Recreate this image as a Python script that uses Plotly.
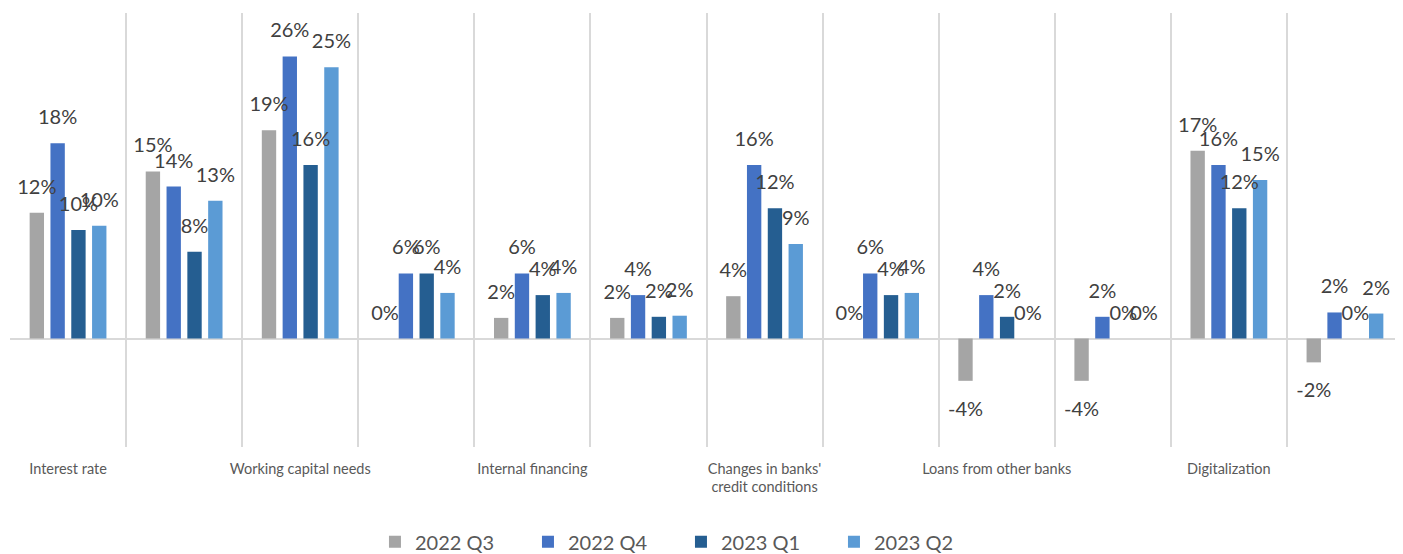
import plotly.graph_objects as go

# Category slots (only every other label is shown, as in the original chart)
category_labels = [
    "Interest rate", "",
    "Working capital needs", "",
    "Internal financing", "",
    "Changes in banks'<br>credit conditions", "",
    "Loans from other banks", "",
    "Digitalization", "",
]
x_index = list(range(len(category_labels)))

series_names = ["2022 Q3", "2022 Q4", "2023 Q1", "2023 Q2"]
q3_2022 = [0.116, 0.154, 0.192, 0.000, 0.019, 0.019, 0.039, 0.000, -0.039, -0.039, 0.173, -0.022]
q4_2022 = [0.180, 0.140, 0.260, 0.060, 0.060, 0.040, 0.160, 0.060, 0.040, 0.020, 0.160, 0.024]
q1_2023 = [0.100, 0.080, 0.160, 0.060, 0.040, 0.020, 0.120, 0.040, 0.020, 0.000, 0.120, 0.000]
q2_2023 = [0.104, 0.127, 0.250, 0.042, 0.042, 0.021, 0.087, 0.042, 0.000, 0.000, 0.146, 0.023]
series_values = [q3_2022, q4_2022, q1_2023, q2_2023]
series_colors = ["#A5A5A5", "#4472C4", "#255E91", "#5B9BD5"]

FONT = "Lato, 'Open Sans', sans-serif"
BARGAP = 0.283

fig = go.Figure()
for name, vals, color in zip(series_names, series_values, series_colors):
    fig.add_trace(go.Bar(
        name=name,
        x=x_index,
        y=vals,
        marker=dict(color=color, line=dict(width=0)),
        hoverinfo="x+y+name",
    ))

# Data labels: invisible grouped markers carrying the text, so the label
# sits a little away from the bar end (like Excel's "outside end" labels).
for name, vals in zip(series_names, series_values):
    fig.add_trace(go.Scatter(
        x=x_index,
        y=vals,
        mode="markers+text",
        texttemplate="%{y:.0%}",
        textposition=["top center" if v >= 0 else "bottom center" for v in vals],
        textfont=dict(family=FONT, size=20, color="#404040"),
        marker=dict(size=[20.8 if v >= 0 else 30.4 for v in vals], opacity=0),
        cliponaxis=False,
        showlegend=False,
        hoverinfo="skip",
        name=name,
    ))

tick_positions = [i for i, lab in zip(x_index, category_labels) if lab]
tick_text = [lab for lab in category_labels if lab]

fig.update_layout(
    barmode="group",
    bargap=BARGAP,
    bargroupgap=0.31,
    scattermode="group",
    scattergap=BARGAP,
    width=1395,
    height=546,
    margin=dict(l=2, r=0, t=5, b=107, autoexpand=False),
    paper_bgcolor="white",
    plot_bgcolor="white",
    font=dict(family=FONT, color="#595959"),
    showlegend=True,
    legend=dict(
        orientation="h",
        x=0.262, xanchor="left",
        y=-0.2185, yanchor="middle",
        font=dict(family=FONT, size=20, color="#595959"),
        entrywidth=108, entrywidthmode="pixels",
        itemclick=False, itemdoubleclick=False,
    ),
    xaxis=dict(
        range=[-0.5, len(category_labels) - 0.5],
        tickmode="array",
        tickvals=tick_positions,
        ticktext=tick_text,
        tickfont=dict(family=FONT, size=14.5, color="#595959"),
        ticks="",
        showgrid=False,
        showline=False,
        zeroline=False,
        ticklabelstandoff=11,
        minor=dict(
            tickmode="linear", tick0=-0.5, dtick=1,
            showgrid=True, gridcolor="#D9D9D9", gridwidth=1.5, ticks="",
        ),
    ),
    yaxis=dict(
        range=[-0.10, 0.30],
        showticklabels=False,
        showgrid=False,
        zeroline=True,
        zerolinecolor="#D9D9D9",
        zerolinewidth=2,
        ticks="",
    ),
)

fig.write_html("out.html")
